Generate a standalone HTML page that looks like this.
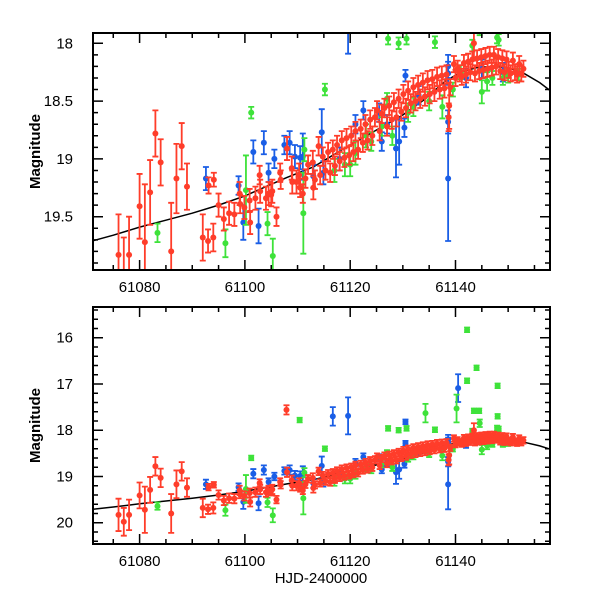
<!DOCTYPE html>
<html><head><meta charset="utf-8">
<style>
html,body{margin:0;padding:0;background:#fff;}
svg{display:block;}
text{font-family:"Liberation Sans",sans-serif;font-size:15px;fill:#000;}
</style></head>
<body>
<svg id="chart" width="600" height="600" viewBox="0 0 600 600"></svg>
<script>
// ---- data ----
const curveT = [61071,61075,61080,61085,61090,61095,61100,61104,61108,61113,61117,61120,61125,61130,61134,61138,61141,61144,61147,61150,61153,61156,61158];
const curveM = [19.71,19.66,19.59,19.53,19.47,19.40,19.32,19.24,19.16,19.07,18.96,18.88,18.75,18.62,18.49,18.33,18.25,18.21,18.20,18.21,18.26,18.34,18.41];

const redT = [61076,61077,61078,61080,61081,61082,61083,61084,61086,61087,61088,61089,61092,61093,61093.1,61094,61094.1,61095,61096,61097,61098,61099,61099.1,61099.9,61100.9,61101,61102,61102.8,61102.9,61104,61104.5,61105,61105.2,61106,61106.7,61106.8,61107.9,61108,61108.9,61109,61109.8,61110.3,61110.5,61111,61111.5,61112,61112.9,61113,61113.3,61114,61114.3,61114.8,61115.3,61115.8,61116.2,61116.7,61117.1,61117.5,61118,61118.4,61118.9,61119.3,61119.8,61120.2,61120.6,61121,61121.5,61122,61122.4,61122.9,61123.3,61123.8,61124.2,61124.7,61125.1,61125.6,61126,61126.5,61127,61127.4,61127.9,61128.3,61128.8,61129.2,61129.7,61130.1,61130.6,61131,61131.5,61132,61132.4,61132.9,61133.3,61133.8,61134.2,61134.7,61135.1,61135.6,61136,61136.5,61137,61137.4,61137.9,61138.3,61138.7,61138.8,61139,61139.7,61140,61140.4,61140.8,61141.2,61141.6,61142,61142.4,61142.8,61143.2,61143.5,61143.7,61144.1,61144.5,61144.9,61145.3,61145.7,61146.1,61146.5,61146.9,61147.3,61147.7,61148.1,61148.5,61148.9,61149.3,61149.7,61150.1,61150.5,61150.9,61151.3,61151.7,61152.1,61152.5,61152.9];
const redM = [19.83,19.98,19.83,19.41,19.72,19.29,18.78,19.03,19.80,19.17,18.89,19.24,19.68,19.71,19.23,19.68,19.18,19.40,19.52,19.47,19.48,19.30,19.39,19.42,19.36,19.55,19.34,19.14,19.28,19.34,19.30,19.31,19.28,19.50,19.12,19.18,17.56,18.91,19.08,19.20,19.20,19.14,19.25,19.30,19.17,19.05,19.03,19.25,19.18,18.89,
19.14,18.98,19.10,18.94,19.12,18.92,19.06,18.88,19.02,18.84,18.99,18.82,18.97,18.80,18.94,18.76,18.92,18.74,18.86,18.70,18.84,18.66,18.80,18.64,18.58,18.76,18.61,18.56,18.72,18.54,18.66,18.51,18.64,18.48,18.59,18.44,18.56,18.41,18.52,18.38,18.50,18.36,18.48,18.34,18.46,18.32,18.44,18.31,18.42,18.29,18.40,18.28,18.39,18.27,
18.64,18.54,18.38,18.18,18.30,18.22,18.26,18.29,18.17,18.27,18.16,18.25,18.14,18.00,18.26,18.13,18.24,18.12,18.23,18.11,18.22,18.10,18.21,18.10,18.20,18.12,18.24,18.13,18.25,18.14,18.23,18.26,18.15,18.25,18.27,18.18,18.26,18.22];
const redE = [0.35,0.30,0.33,0.28,0.50,0.28,0.20,0.20,0.42,0.30,0.20,0.20,0.20,0.10,0.07,0.12,0.06,0.10,0.10,0.10,0.10,0.10,0.08,0.10,0.10,0.10,0.10,0.08,0.10,0.10,0.10,0.10,0.10,0.08,0.08,0.08,0.10,0.10,0.10,0.10,0.10,0.10,0.08,0.08,0.08,0.08,0.10,0.10,0.08,0.08,0.08,0.08,0.08,0.08,0.08,0.08,0.08,0.08,0.08,0.08,0.08,0.08,0.08,0.08,0.08,0.08,0.08,0.08,0.08,0.08,0.08,0.08,0.08,0.08,0.08,0.08,0.08,0.08,0.08,0.08,0.08,0.08,0.08,0.08,0.08,0.08,0.08,0.08,0.08,0.08,0.08,0.08,0.08,0.08,0.08,0.08,0.08,0.08,0.08,0.08,0.08,0.08,0.08,0.08,0.12,0.20,0.07,0.07,0.07,0.07,0.07,0.07,0.07,0.07,0.07,0.07,0.07,0.15,0.07,0.07,0.07,0.07,0.07,0.07,0.07,0.07,0.07,0.07,0.07,0.07,0.07,0.07,0.07,0.07,0.07,0.07,0.07,0.07,0.07,0.07,0.07,0.07,0.07];

const blueT = [61092.6,61098.8,61099.7,61101.6,61102.6,61103.6,61104.5,61105.6,61107.5,61108.5,61109.5,61110.5,61111,61113,61114.6,61114.9,61116.7,61118,61119.6,61121,61122.5,61125.5,61126,61127,61128.7,61129.3,61130.3,61130.5,61130.5,61133,61138.6,61138.6,61138.6,61138.6,61140.5,61142,61145,61149];
const blueM = [19.17,19.23,19.55,18.94,19.58,18.86,19.12,19.00,18.88,18.86,18.98,18.99,18.98,19.15,18.77,19.12,17.70,19.00,17.69,18.70,18.58,18.60,18.85,18.70,18.91,18.85,18.73,18.28,17.82,18.45,18.20,18.26,18.68,19.17,17.09,18.30,18.22,18.25];
const blueE = [0.10,0.08,0.15,0.10,0.15,0.10,0.08,0.08,0.08,0.10,0.10,0.10,0.20,0.10,0.20,0.10,0.20,0.10,0.40,0.08,0.08,0.08,0.08,0.08,0.25,0.20,0.08,0.05,0.05,0.08,0.10,0.10,0.10,0.54,0.30,0.08,0.08,0.08];

const greenT = [61083.4,61096.3,61100.2,61101.2,61104.3,61105.3,61110.4,61111.1,61111.3,61115.2,61117,61119,61120,61121,61123,61124,61126,61127,61127.2,61128,61129.2,61130.7,61131,61132,61134.3,61135,61136.1,61137.5,61139.5,61140.2,61141,61142.2,61142.2,61143.2,61143.5,61144,61144.5,61144.6,61145,61146,61147,61147.9,61148,61148,61148.2,61149,61150,61152];
const greenM = [19.64,19.73,19.27,18.60,19.56,19.84,17.78,19.47,18.92,18.40,19.10,19.05,19.05,18.95,18.80,18.85,18.72,18.48,17.96,18.80,18.00,17.96,18.60,18.55,17.63,18.50,17.99,18.55,18.40,17.53,18.25,15.83,16.93,18.02,17.58,16.65,17.58,17.85,18.42,18.33,18.30,17.95,17.04,17.70,17.97,18.30,18.28,18.27];
const greenE = [0.08,0.12,0.30,0.05,0.10,0.15,0.05,0.35,0.10,0.05,0.10,0.10,0.10,0.10,0.10,0.08,0.08,0.05,0.05,0.08,0.05,0.05,0.08,0.08,0.20,0.08,0.05,0.10,0.06,0.30,0.06,0.05,0.05,0.05,0.05,0.05,0.05,0.08,0.10,0.08,0.06,0.05,0.05,0.05,0.05,0.06,0.06,0.05];

const xTickLabels = ["61080","61100","61120","61140"];
const topYLabels = ["18","18.5","19","19.5"];
const botYLabels = ["16","17","18","19","20"];

// ---- drawing ----
const NS = "http://www.w3.org/2000/svg";
const svg = document.getElementById("chart");
const X0 = 93, X1 = 550, TMIN = 61071.15, TMAX = 61157.95;
function xs(t){ return X0 + (t - TMIN) / (TMAX - TMIN) * (X1 - X0); }
function mk(tag, attrs, parent){
  const e = document.createElementNS(NS, tag);
  for (const k in attrs) e.setAttribute(k, attrs[k]);
  (parent || svg).appendChild(e);
  return e;
}
const COLORS = {blue:"#1a5ee6", green:"#3ee23a", red:"#ff3d2a"};

function panel(name, top, bottom, mMin, mMax, yLabels, yMajor, yMinor){
  const ys = m => top + (m - mMin) / (mMax - mMin) * (bottom - top);
  const g = mk("g", {});
  
  
  const clipId = name + "-clip";
  const cp = mk("clipPath", {id: clipId}, g);
  mk("rect", {x: X0, y: top, width: X1 - X0, height: bottom - top}, cp);
  const plot = mk("g", {"clip-path": "url(#" + clipId + ")"}, g);

  let d = "";
  curveT.forEach((t, i) => { d += (i ? "L" : "M") + xs(t).toFixed(1) + "," + ys(curveM[i]).toFixed(1); });
  const cv = mk("path", {d: d, fill: "none", stroke: "#000", "stroke-width": 1.5}, plot);
  
  

  function series(label, T, M, E, col){
    const sg = mk("g", {stroke: col, fill: col, "stroke-width": 1.8}, plot);
    
    
    T.forEach((t, i) => {
      const x = xs(t), y = ys(M[i]), y1 = ys(M[i] - E[i]), y2 = ys(M[i] + E[i]);
      mk("path", {d: `M${x},${y1}V${y2}M${x-3},${y1}H${x+3}M${x-3},${y2}H${x+3}`, fill: "none"}, sg);
      const c = mk("circle", {cx: x, cy: y, r: 3, stroke: "none"}, sg);
      
      
    });
  }
  series("blue", blueT, blueM, blueE, COLORS.blue);
  series("green", greenT, greenM, greenE, COLORS.green);
  series("red", redT, redM, redE, COLORS.red);

  mk("rect", {x: X0, y: top, width: X1 - X0, height: bottom - top, fill: "none", stroke: "#000", "stroke-width": 2}, g);
  let tk = "";
  for (let t = 61075; t <= 61155; t += 5){
    const x = xs(t), L = (t % 20 === 0) ? 10 : 5;
    tk += `M${x},${bottom}v${-L}M${x},${top}v${L}`;
  }
  const nMin = Math.ceil(mMin / yMinor - 1e-6), nMax = Math.floor(mMax / yMinor + 1e-6);
  for (let n = nMin; n <= nMax; n++){
    const m = n * yMinor, y = ys(m);
    const isMaj = Math.abs(m / yMajor - Math.round(m / yMajor)) < 1e-6;
    const L = isMaj ? 10 : 5;
    tk += `M${X0},${y}h${L}M${X1},${y}h${-L}`;
  }
  mk("path", {d: tk, stroke: "#000", "stroke-width": 1.5, fill: "none"}, g);
  xTickLabels.forEach(s => {
    const tx = mk("text", {x: xs(+s), y: bottom + 22, "text-anchor": "middle"}, g);
    tx.textContent = s;
    
    
  });
  yLabels.forEach(s => {
    const tx = mk("text", {x: 73, y: ys(+s) + 5, "text-anchor": "end"}, g);
    tx.textContent = s;
    
    
  });
  const yc = (top + bottom) / 2;
  const yt = mk("text", {x: 40, y: yc, "text-anchor": "middle", transform: `rotate(-90 40 ${yc})`, "font-weight": "bold"}, g);
  yt.textContent = "Magnitude";
  
  
}

panel("top-panel", 33, 270, 17.911, 19.961, topYLabels, 0.5, 0.1);
panel("bottom-panel", 307, 544, 15.336, 20.46, botYLabels, 1, 0.2);

const xt = mk("text", {x: 321, y: 583, "text-anchor": "middle"});
xt.textContent = "HJD-2400000";


</script>
</body></html>
